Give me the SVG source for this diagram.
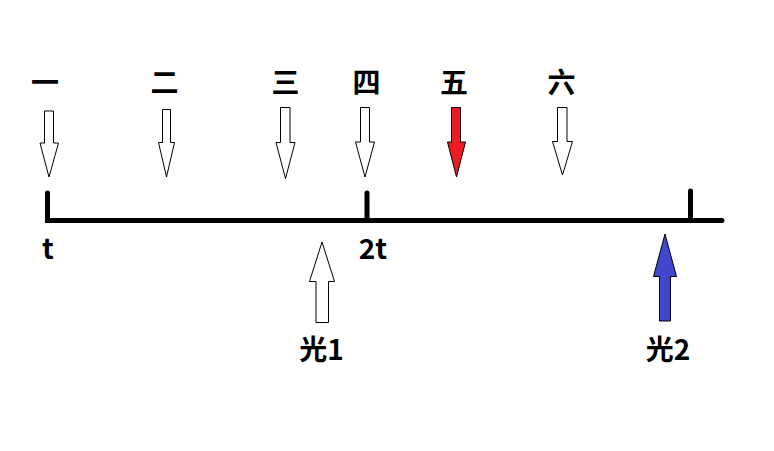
<svg xmlns="http://www.w3.org/2000/svg" width="774" height="451" viewBox="0 0 774 451">
<style>
.lbl{font-family:"Noto Sans CJK SC","Liberation Sans",sans-serif;font-weight:bold;font-size:28px;fill:#000;text-anchor:middle}
.arr{stroke:#000;stroke-width:1;stroke-linejoin:miter}
.w{fill:#fff}
.axis{stroke:#000;stroke-width:5;stroke-linecap:round;fill:none}
</style>
<rect width="774" height="451" fill="#fff"/>
<g id="connectors">
<path class="axis" d="M47.5,193 V220.5 H722"/>
<path class="axis" d="M367,193 V220.5"/>
<path class="axis" d="M690.5,191 V220.5"/>
</g>
<g id="node-1">
<text class="lbl" x="45" y="93">一</text>
<path class="arr w" d="M44.5,111 H53.5 V143 H58.5 L49,177 L40,143 H44.5 Z"/>
</g>
<g id="node-2">
<text class="lbl" x="164.5" y="93">二</text>
<path class="arr w" d="M162.5,109.5 H170.5 V142.5 H174.5 L166.5,177 L158.5,142.5 H162.5 Z"/>
</g>
<g id="node-3">
<text class="lbl" x="285.5" y="93">三</text>
<path class="arr w" d="M280.5,107.5 H290 V142.5 H295 L285.5,178.5 L276,142.5 H280.5 Z"/>
</g>
<g id="node-4">
<text class="lbl" x="366.5" y="93">四</text>
<path class="arr w" d="M360.5,107.5 H369.5 V142 H374.5 L365,177 L355.5,142 H360.5 Z"/>
</g>
<g id="node-5">
<text class="lbl" x="454" y="93">五</text>
<path class="arr" fill="#ED1C24" d="M451.5,107.5 H460.5 V142 H465.5 L456.5,177 L447.5,142 H451.5 Z"/>
</g>
<g id="node-6">
<text class="lbl" x="561.5" y="93">六</text>
<path class="arr w" d="M557.5,107.5 H567 V141.5 H572.5 L562.5,175 L552.5,141.5 H557.5 Z"/>
</g>
<g id="label-t">
<text class="lbl" x="48" y="259">t</text>
</g>
<g id="label-2t">
<text class="lbl" x="373" y="259">2t</text>
</g>
<g id="light-1">
<path class="arr w" d="M316,322.5 H328.5 V281.5 H334.5 L322,242 L309.5,281.5 H316 Z"/>
<text class="lbl" x="321.5" y="360">光1</text>
</g>
<g id="light-2">
<path class="arr" fill="#3F48CC" d="M659.5,321 H670.5 V276.5 H676.5 L665,234 L653.5,276.5 H659.5 Z"/>
<text class="lbl" x="668" y="360">光2</text>
</g>
</svg>
